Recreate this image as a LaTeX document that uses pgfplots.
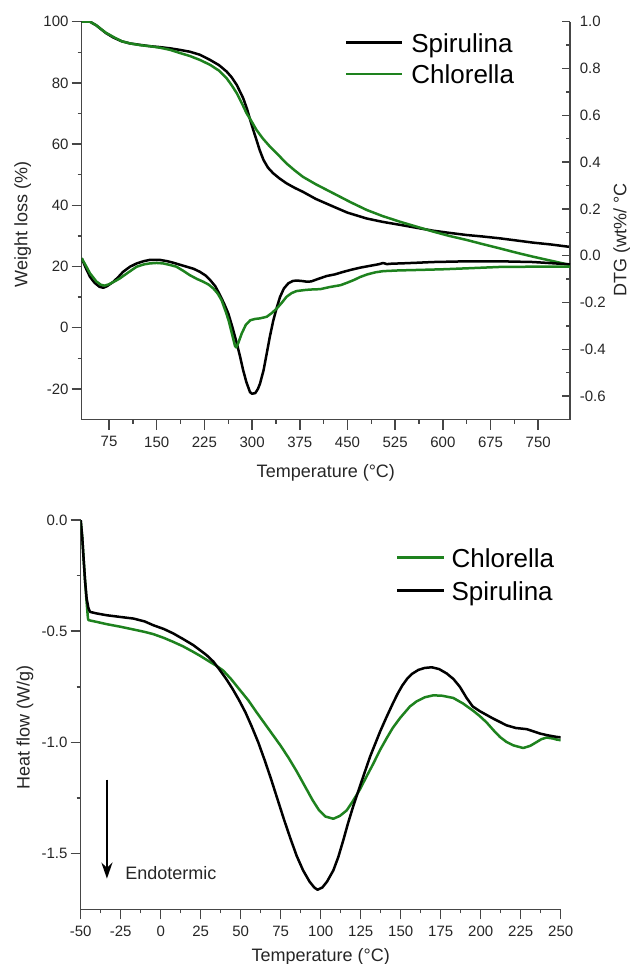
\documentclass[border=0pt]{standalone}
\usepackage{fontspec}
\setmainfont{Liberation Sans}
\usepackage{pgfplots}
\usepackage{pgfplotstable}
\pgfplotsset{compat=1.18}
\usetikzlibrary{arrows.meta}
\definecolor{cgreen}{RGB}{30,130,30}
\definecolor{axgray}{RGB}{70,70,70}

\pgfplotstableread{
T W
32 100
45 100
55 98.8
61 97.8
70 96.3
82 94.8
95 93.6
108 92.9
125 92.4
139 92.0
155 91.7
171 91.3
186 90.8
202 90.2
218 89.2
234 87.5
248 85.8
260 83.7
268 81.8
276 79.3
286 75.0
292 71.5
297 67.9
302 64.5
307 61.3
312 58.0
318 54.8
325 52.3
333 50.5
343 48.8
354 47.2
367 45.7
380 44.4
400 42.1
422 40.1
450 37.6
480 35.7
505 34.6
533 33.6
560 32.6
585 31.7
610 31.0
637 30.3
663 29.8
690 29.2
716 28.5
742 27.8
770 27.2
800 26.4
}\tgspir

\pgfplotstableread{
T W
32 100
45 100
55 98.8
61 97.8
70 96.4
82 95.0
95 93.6
108 92.9
125 92.3
139 92.0
155 91.5
171 90.8
186 89.8
202 88.8
218 87.5
234 85.9
248 84.0
260 81.5
268 79.2
276 76.6
284 73.3
291.5 70.0
297 68.2
307 64.6
317 61.8
328 59.2
341 56.5
354 53.7
367 51.4
380 49.3
400 46.9
428 43.9
455 41.0
480 38.5
505 36.5
533 34.6
559 33.0
585 31.4
610 30.0
637 28.7
663 27.3
690 25.9
716 24.5
742 23.2
770 21.9
800 20.5
}\tgchlo

\pgfplotstableread{
T D
32 -0.011
38 -0.05
45 -0.09
52 -0.115
60 -0.133
66 -0.137
72 -0.13
82 -0.111
90 -0.09
97 -0.069
108 -0.047
118.5 -0.033
130 -0.023
139 -0.018
155 -0.018
166 -0.023
176 -0.03
187 -0.039
197 -0.047
208 -0.056
218 -0.069
227 -0.085
234 -0.104
242 -0.13
249.5 -0.168
256 -0.205
262.6 -0.247
269 -0.305
276 -0.375
281 -0.43
286 -0.49
291 -0.54
296.7 -0.583
300 -0.59
305 -0.587
309 -0.57
312.4 -0.547
318 -0.49
323 -0.418
328 -0.345
333.4 -0.276
339 -0.22
344 -0.176
350 -0.14
357 -0.118
364 -0.108
370 -0.106
378 -0.108
386 -0.111
393 -0.11
402 -0.101
417 -0.087
430 -0.08
443.5 -0.069
456 -0.06
470 -0.051
486 -0.043
500 -0.036
506 -0.031
512 -0.036
520 -0.034
533 -0.033
560 -0.03
585 -0.027
637 -0.024
690 -0.024
742 -0.027
800 -0.037
}\dtgspir

\pgfplotstableread{
T D
32 -0.011
38 -0.04
45 -0.075
55 -0.11
62 -0.124
68 -0.128
75 -0.122
85 -0.108
92 -0.097
105 -0.072
118.5 -0.047
130 -0.037
139 -0.033
150 -0.031
160 -0.033
170 -0.039
181 -0.047
192 -0.065
202 -0.083
213 -0.099
223 -0.111
232 -0.124
239 -0.14
246 -0.162
252 -0.19
258 -0.235
263 -0.276
268 -0.33
273 -0.385
275 -0.392
278 -0.375
283.6 -0.333
290 -0.296
297 -0.276
305 -0.27
312 -0.268
323 -0.261
331 -0.245
339 -0.225
347 -0.2
354 -0.176
362 -0.16
370 -0.151
385 -0.146
396 -0.144
407 -0.143
422 -0.134
439 -0.126
450 -0.115
460 -0.104
470 -0.091
481 -0.08
494 -0.071
506 -0.066
530 -0.063
559 -0.061
600 -0.058
637 -0.054
690 -0.048
740 -0.047
800 -0.047
}\dtgchlo

\pgfplotstableread{
T H
-50 0
-49 -0.08
-48.4 -0.15
-47.3 -0.27
-46.3 -0.352
-45.2 -0.395
-44.2 -0.413
-40 -0.42
-33.8 -0.428
-25 -0.436
-17 -0.443
-10 -0.456
-4.6 -0.473
2 -0.49
7.9 -0.51
14 -0.535
20.4 -0.5625
28.7 -0.6075
33 -0.637
37 -0.675
41 -0.715
45 -0.76
49 -0.81
53 -0.865
57 -0.93
61 -1.0
65 -1.08
69 -1.165
73 -1.255
77 -1.345
81 -1.43
85 -1.51
89 -1.575
93 -1.625
96 -1.652
98 -1.662
101 -1.652
104 -1.625
107.9 -1.575
111 -1.515
114.1 -1.44
117 -1.365
120.4 -1.285
124.6 -1.195
130.8 -1.065
137 -0.953
141 -0.888
145 -0.826
148 -0.782
151 -0.744
154 -0.714
157 -0.692
161 -0.674
165 -0.665
169.4 -0.662
174 -0.67
178.8 -0.69
183 -0.715
187 -0.75
191.2 -0.8
195 -0.838
199.6 -0.86
207.9 -0.893
216.2 -0.923
222 -0.935
228.7 -0.94
233 -0.95
237.1 -0.96
242 -0.968
247.5 -0.975
250 -0.977
}\dscspir

\pgfplotstableread{
T H
-50 0
-49 -0.08
-48.4 -0.15
-47.3 -0.27
-46.3 -0.37
-45.5 -0.44
-45.2 -0.45
-40 -0.458
-33.8 -0.468
-25 -0.48
-17.1 -0.492
-10 -0.503
-4.6 -0.513
2 -0.53
7.9 -0.548
14 -0.568
20.4 -0.593
25 -0.612
30.8 -0.638
35 -0.656
39.1 -0.677
44 -0.715
49.6 -0.765
54.7 -0.81
60 -0.865
65 -0.915
70 -0.965
75 -1.015
80 -1.07
85 -1.13
90 -1.195
95 -1.26
99 -1.305
103 -1.333
107.9 -1.343
112 -1.33
116.3 -1.305
120 -1.265
124.6 -1.21
128.5 -1.155
132.9 -1.095
137 -1.035
141.3 -0.98
145 -0.935
149.6 -0.89
155.8 -0.838
160 -0.815
165 -0.797
170.4 -0.788
176 -0.79
182.9 -0.80
189 -0.825
195.4 -0.858
199.5 -0.882
203.7 -0.91
208 -0.945
212 -0.975
216 -0.997
220.4 -1.013
226.6 -1.025
231 -1.015
235 -0.998
238 -0.985
241.2 -0.978
245 -0.982
247.5 -0.987
250 -0.99
}\dscchlo

\pgfplotsset{
  myax/.style={
    scale only axis,
    anchor=south west,
    /pgf/number format/assume math mode=true,
    tick label style={font=\fontsize{7.5}{9}\selectfont, text=black!85},
    label style={font=\fontsize{9}{11}\selectfont, text=black!85},
    axis line style={axgray, line width=0.75pt},
    tick style={axgray, line width=0.75pt},
    major tick length=5pt,
    minor tick length=2pt,
    tick align=outside,
  },
  curve/.style={line width=1.25pt, line join=round},
  onedec/.style={
    /pgf/number format/fixed,
    /pgf/number format/fixed zerofill,
    /pgf/number format/precision=1,
  },
}

\begin{document}
\begin{tikzpicture}
\useasboundingbox (0,0) rectangle (316pt,-482pt);

% ---------- top panel, left axis ----------
\begin{axis}[myax,
  at={(40.85pt,-209.75pt)},
  width=244.15pt, height=198.9pt,
  xmin=32, xmax=800, ymin=-30, ymax=100,
  axis x line*=bottom, axis y line*=left,
  xtick={75,150,225,300,375,450,525,600,675,750},
  minor x tick num=1,
  ytick={-20,0,20,40,60,80,100},
  minor y tick num=1,
  yticklabel style={inner sep=1.4pt},
  xlabel={Temperature (°C)},
  ylabel={Weight loss (\%)},
  xlabel style={at={(axis description cs:0.5,-0.1345)}, anchor=center},
  ylabel style={at={(axis description cs:-0.1208,0.491)}, anchor=center},
  legend style={draw=none, fill=none, at={(0.539,0.9716)}, anchor=north west,
    inner sep=0pt, outer sep=0pt, row sep=3.15pt, column sep=4pt,
    font=\fontsize{13}{15}\selectfont,
    nodes={inner sep=0pt, text height=9.5pt, text depth=3pt}},
  legend cell align=left,
  legend image code/.code={\draw[#1] (0pt,1.4pt) -- (28pt,1.4pt);},
]
\addplot[curve, black] table[x=T,y=W] {\tgspir};
\addlegendentry{Spirulina}
\addplot[curve, cgreen] table[x=T,y=W] {\tgchlo};
\addlegendentry{Chlorella}
\end{axis}

% ---------- top panel, right axis ----------
\begin{axis}[myax,
  at={(40.85pt,-209.75pt)},
  width=244.15pt, height=198.9pt,
  xmin=32, xmax=800, ymin=-0.7, ymax=1.0,
  axis x line=none, axis y line*=right,
  tick align=inside,
  major tick length=4pt,
  ytick={-0.6,-0.4,-0.2,0,0.2,0.4,0.6,0.8,1.0},
  minor y tick num=1,
  yticklabel style={onedec, xshift=1.4pt},
  ylabel={DTG (wt\%/ °C},
  ylabel style={at={(axis description cs:1.1059,0.451)}, anchor=center},
]
\addplot[curve, black] table[x=T,y=D] {\dtgspir};
\addplot[curve, cgreen] table[x=T,y=D] {\dtgchlo};
\end{axis}

% ---------- bottom panel ----------
\begin{axis}[myax,
  at={(40.35pt,-454.65pt)},
  width=240pt, height=194.65pt,
  xmin=-50, xmax=250, ymin=-1.75, ymax=0,
  axis x line*=bottom, axis y line*=left,
  xtick={-50,-25,0,25,50,75,100,125,150,175,200,225,250},
  minor x tick num=1,
  ytick={-1.5,-1.0,-0.5,0},
  minor y tick num=1,
  yticklabel style={onedec, inner sep=1.4pt},
  xlabel={Temperature (°C)},
  ylabel={Heat flow (W/g)},
  xlabel style={at={(axis description cs:0.5,-0.1218)}, anchor=center},
  ylabel style={at={(axis description cs:-0.116,0.467)}, anchor=center},
  legend style={draw=none, fill=none, at={(0.657,0.928)}, anchor=north west,
    inner sep=0pt, outer sep=0pt, row sep=4pt, column sep=3pt,
    font=\fontsize{13}{15}\selectfont,
    nodes={inner sep=0pt, text height=9.5pt, text depth=3pt}},
  legend cell align=left,
  legend image code/.code={\draw[#1] (0pt,1.4pt) -- (23.5pt,1.4pt);},
]
\addplot[curve, cgreen] table[x=T,y=H] {\dscchlo};
\addlegendentry{Chlorella}
\addplot[curve, black] table[x=T,y=H] {\dscspir};
\addlegendentry{Spirulina}
\draw[line width=1.1pt, -{Stealth[length=8pt,width=5.5pt]}] (axis cs:-33.6,-1.167) -- (axis cs:-33.6,-1.612);
\node[anchor=west, inner sep=0pt, font=\fontsize{9}{11}\selectfont, text=black!85] at (axis cs:-22.3,-1.587) {Endotermic};
\end{axis}
\end{tikzpicture}
\end{document}
